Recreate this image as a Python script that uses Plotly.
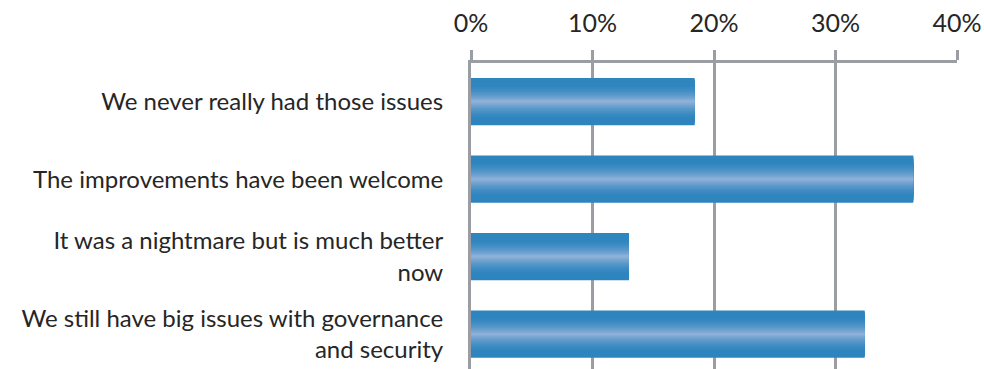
import plotly.graph_objects as go

categories = [
    "We never really had those issues",
    "The improvements have been welcome",
    "It was a nightmare but is much better<br>now",
    "We still have big issues with governance<br>and security",
]
values = [18.4, 36.4, 13.0, 32.4]
tick_vals = [0, 10, 20, 30, 40]
tick_text = ["0%", "10%", "20%", "30%", "40%"]

DARK = (47, 133, 190)
LIGHT = (150, 180, 218)
BAR_W = 0.61
N = 24

fig = go.Figure()
for k in range(N):
    frac = 1 - k / N  # half-height fraction
    t = max(0.0, 1 - frac / 0.75) ** 1.6
    c = tuple(round(DARK[i] + (LIGHT[i] - DARK[i]) * t) for i in range(3))
    fig.add_trace(go.Bar(
        x=values, y=categories, orientation="h",
        width=BAR_W * frac,
        marker=dict(color="rgb(%d,%d,%d)" % c, line=dict(width=0)),
        showlegend=False, hoverinfo="skip",
    ))

GRID = "#9a9ea3"
fig.update_layout(
    width=984, height=369,
    margin=dict(l=471, r=27, t=63, b=0),
    barmode="overlay",
    plot_bgcolor="white", paper_bgcolor="white",
    font=dict(family="Lato", size=24, color="#262626"),
)
fig.update_xaxes(
    side="top", range=[0, 40], tickvals=tick_vals, ticktext=tick_text,
    showgrid=True, gridcolor=GRID, gridwidth=3,
    showline=True, linecolor=GRID, linewidth=3,
    ticks="outside", ticklen=10, tickwidth=3, tickcolor=GRID,
    ticklabelstandoff=8, zeroline=False,
    tickfont=dict(size=25),
)
fig.update_yaxes(
    type="category", categoryorder="array", categoryarray=categories,
    range=[3.45, -0.5],
    showline=True, linecolor=GRID, linewidth=3,
    showgrid=False, ticks="", ticklabelstandoff=20,
    tickfont=dict(size=24),
)
fig.write_html("out.html")
